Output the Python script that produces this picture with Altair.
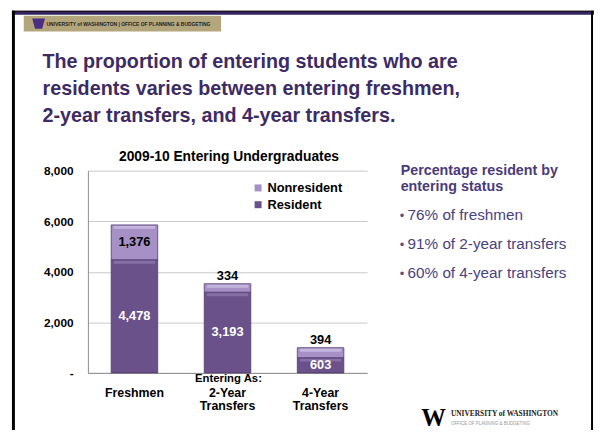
import altair as alt
import pandas as pd

# ---- data ----
categories = ["Freshmen", "2-Year Transfers", "4-Year Transfers"]
resident = [4478, 3193, 603]
nonresident = [1376, 334, 394]
statuses = ["Nonresident", "Resident"]
status_colors = ["#a690c6", "#6a5189"]
highlight_colors = {"Resident": "#8a72a9", "Nonresident": "#c8b9e0"}
y_ticks = [0, 2000, 4000, 6000, 8000]
title_lines = [
    "The proportion of entering students who are",
    "residents varies between entering freshmen,",
    "2-year transfers, and 4-year transfers.",
]
chart_title = "2009-10 Entering Undergraduates"
side_heading = ["Percentage resident by", "entering status"]
bullets = ["76% of freshmen", "91% of 2-year transfers", "60% of 4-year transfers"]

rows = []
for c, r, n in zip(categories, resident, nonresident):
    rows.append({"cat": c, "status": "Resident", "start": 0, "end": r,
                 "mid": r / 2, "label": f"{r:,}", "place": "white"})
    rows.append({"cat": c, "status": "Nonresident", "start": r, "end": r + n,
                 "mid": r + n / 2, "label": f"{n:,}",
                 "place": "inside" if n >= 1000 else "above"})
df = pd.DataFrame(rows)
one = pd.DataFrame({"a": [0]})

FONT = "Liberation Sans"
SERIF = "Liberation Serif"
W, H = 283, 205

x_axis = alt.Axis(
    title="Entering As:", titleX=142, titleY=6, titleBaseline="middle",
    titleFont=FONT, titleFontSize=11.5, titleFontWeight="bold", titleColor="black",
    labelAngle=0, labelExpr="split(datum.label, ' ')", labelFont=FONT,
    labelFontSize=12.5, labelFontWeight="bold", labelColor="black",
    labelLineHeight=13, labelPadding=14, ticks=False,
    domainColor="#8c8c8c", grid=False,
)
y_axis = alt.Axis(
    title=None, values=y_ticks,
    labelExpr="datum.value == 0 ? '-\u00a0\u00a0' : format(datum.value, ',')",
    labelFont=FONT, labelFontSize=12, labelFontWeight="bold", labelColor="black",
    labelPadding=15, ticks=False, domainColor="#8c8c8c",
    grid=True, gridColor="#c8c8c8",
)
x_enc = alt.X("cat:N", sort=categories,
              scale=alt.Scale(paddingInner=0.5, paddingOuter=0.25), axis=x_axis)
y_scale = alt.Scale(domain=[0, 8000], nice=False)

base = alt.Chart(df)

bars = base.mark_bar(stroke="#4f3b6e", strokeWidth=0.8).encode(
    x=x_enc,
    y=alt.Y("start:Q", scale=y_scale, axis=y_axis),
    y2="end:Q",
    color=alt.Color("status:N", scale=alt.Scale(domain=statuses, range=status_colors),
                    legend=alt.Legend(orient="none", legendX=166, legendY=11, title=None,
                                      symbolType="square", symbolSize=50,
                                      symbolStrokeWidth=0, labelFont=FONT,
                                      labelFontSize=13, labelFontWeight="bold",
                                      labelColor="black", rowPadding=3,
                                      labelOffset=3)),
    order=alt.Order("start:Q"),
)

ticks = base.mark_tick(thickness=3, size=42, yOffset=2.5, opacity=0.9).encode(
    x=x_enc,
    y=alt.Y("end:Q", scale=y_scale, axis=y_axis),
    color=alt.condition(alt.datum.status == "Resident",
                        alt.value(highlight_colors["Resident"]),
                        alt.value(highlight_colors["Nonresident"])),
)

lab_white = base.transform_filter(alt.datum.place == "white").mark_text(
    font=FONT, fontSize=13, fontWeight="bold", color="white", baseline="middle"
).encode(x=x_enc, y=alt.Y("mid:Q", scale=y_scale, axis=y_axis), text="label:N")

lab_in = base.transform_filter(alt.datum.place == "inside").mark_text(
    font=FONT, fontSize=13, fontWeight="bold", color="black", baseline="middle"
).encode(x=x_enc, y=alt.Y("mid:Q", scale=y_scale, axis=y_axis), text="label:N")

lab_above = base.transform_filter(alt.datum.place == "above").mark_text(
    font=FONT, fontSize=13, fontWeight="bold", color="black", baseline="bottom", dy=-1
).encode(x=x_enc, y=alt.Y("end:Q", scale=y_scale, axis=y_axis), text="label:N")


def rect(x1, x2, y1, y2, color):
    return alt.Chart(one).mark_rect(color=color).encode(
        x=alt.value(x1), x2=alt.value(x2), y=alt.value(y1), y2=alt.value(y2))


def text(x, y, txt, **kw):
    return alt.Chart(one).mark_text(text=txt, **kw).encode(
        x=alt.value(x), y=alt.value(y))


decor = [
    rect(-77, 513, -162, -158, "#35235f"),
    rect(-77, 513, -162, -161, "#111111"),
    rect(-77, -74, -162, 272, "black"),
    rect(510, 512, -162, 272, "black"),
    rect(-65, 135, -157, -141, "#b4a67c"),
    alt.Chart(one).mark_point(shape="M-1,-0.8L1,-0.8L0.55,0.8L-0.55,0.8Z",
                              filled=True, size=170, color="#4b2e83", opacity=1
                              ).encode(x=alt.value(-50), y=alt.value(-149)),
    text(-42, -149, "UNIVERSITY of WASHINGTON  |  OFFICE OF PLANNING & BUDGETING",
         align="left", baseline="middle", font=FONT, fontSize=5, fontWeight="bold",
         color="#222222"),
    text(-46, -104, title_lines, align="left", baseline="alphabetic", font=FONT,
         fontSize=20, fontWeight="bold", color="#3d2b63", lineHeight=27.5),
    text(143, -14, chart_title, align="center", baseline="middle", font=FONT,
         fontSize=14, fontWeight="bold", color="black"),
    text(317, 4, side_heading, align="left", baseline="alphabetic", font=FONT,
         fontSize=14.5, fontWeight="bold", color="#4a3a7c", lineHeight=16.5),
    text(316, 50, ["\u2022"] * len(bullets), align="left", baseline="alphabetic",
         font=FONT, fontSize=13, color="#5a5080", lineHeight=29.5),
    text(324, 50, bullets, align="left", baseline="alphabetic", font=FONT,
         fontSize=15.5, color="#4a3f7f", lineHeight=29.5),
    text(338, 259, "W", align="left", baseline="alphabetic", font=SERIF,
         fontSize=25, fontWeight="bold", color="black"),
    text(368, 247, "UNIVERSITY of WASHINGTON", align="left", baseline="middle",
         font=SERIF, fontSize=7.5, fontWeight="bold", color="#222222"),
    text(368, 257, "OFFICE OF PLANNING & BUDGETING", align="left", baseline="middle",
         font=FONT, fontSize=4.5, color="#999999"),
]

chart = alt.layer(*decor, bars, ticks, lab_white, lab_in, lab_above).properties(
    width=W, height=H,
    padding={"left": 81, "top": 162, "right": 230, "bottom": 55},
    autosize=alt.AutoSizeParams(type="none"),
).configure(background="white").configure_view(stroke=None)

chart.save("out.html", embed_options={"renderer": "svg", "actions": False})
